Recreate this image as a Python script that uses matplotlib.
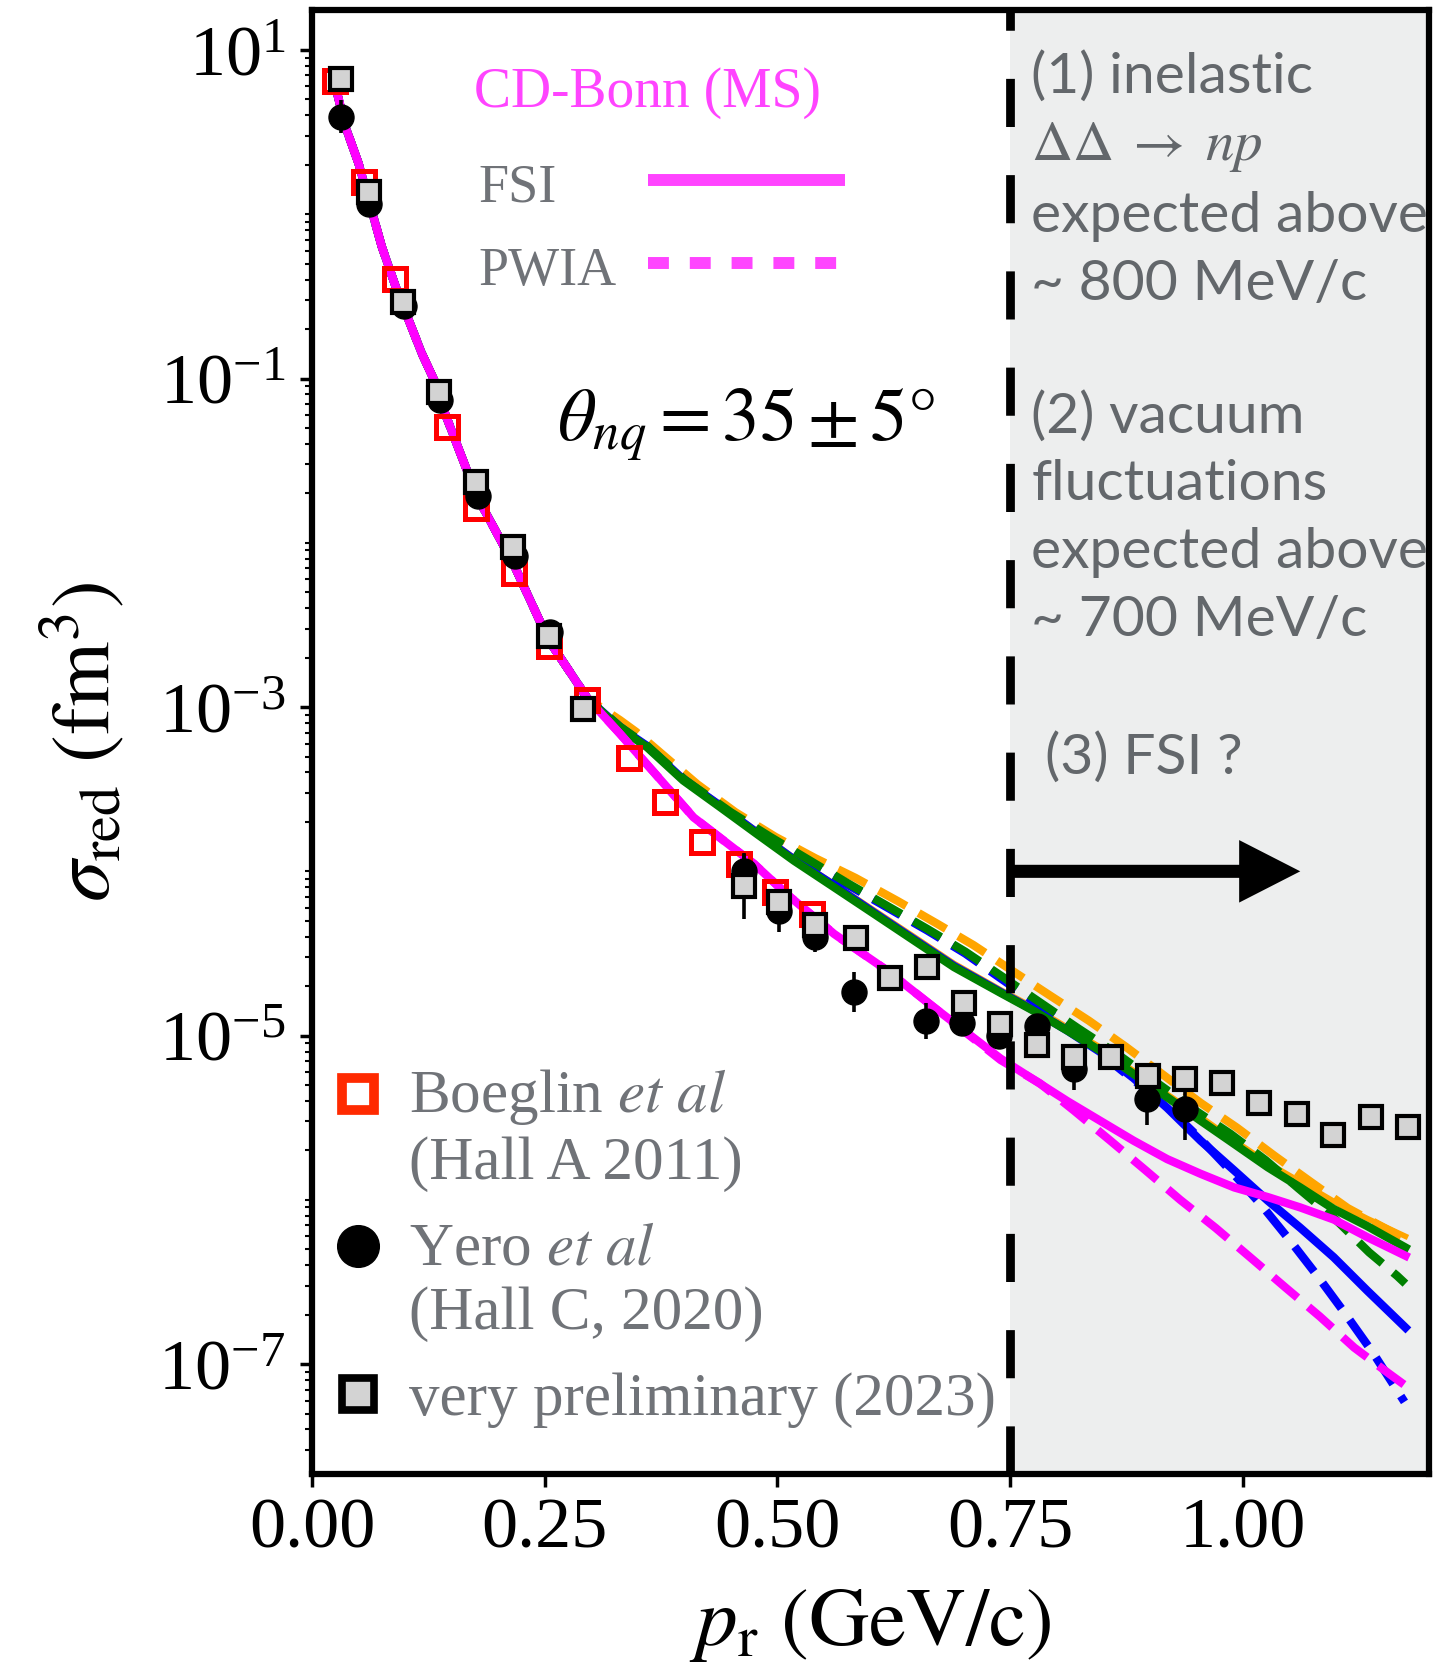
import numpy as np
import matplotlib
matplotlib.use('Agg')
import matplotlib.pyplot as plt
import matplotlib.ticker as tick
from matplotlib.lines import Line2D
from matplotlib.legend_handler import HandlerLine2D

plt.rcParams['font.family'] = ['Liberation Serif', 'DejaVu Serif']
plt.rcParams['mathtext.fontset'] = 'stix'

# ---------------- measured reduced cross sections (fm^3) ----------------
# Boeglin et al, Hall A 2011
p_boeglin = [0.025, 0.0556, 0.0889, 0.145, 0.1766, 0.2167, 0.2544, 0.2957, 0.3403,
             0.3796, 0.419, 0.4584, 0.4978, 0.5373]
sig_boeglin = [6.5, 1.57, 0.405, 0.0507, 0.0162, 6.59e-3, 2.36e-3, 1.10e-3, 4.91e-4,
               2.64e-4, 1.50e-4, 1.11e-4, 7.46e-5, 5.51e-5]

# Yero et al, Hall C 2020 (errors given in decades)
p_yero = [0.0315, 0.0617, 0.0985, 0.138, 0.1788, 0.2178, 0.2556, 0.4638, 0.5014,
          0.5409, 0.582, 0.6602, 0.6986, 0.738, 0.779, 0.8186, 0.8975, 0.9376]
sig_yero = [3.92, 1.16, 0.275, 0.0736, 0.0193, 8.26e-3, 2.86e-3, 1.01e-4, 5.77e-5,
            3.97e-5, 1.84e-5, 1.23e-5, 1.2e-5, 1.0e-5, 1.15e-5, 6.27e-6, 4.11e-6, 3.57e-6]
dex_yero = [0.10, 0.03, 0.03, 0.03, 0.03, 0.03, 0.03, 0.10, 0.13,
            0.09, 0.12, 0.11, 0.06, 0.08, 0.05, 0.13, 0.16, 0.19]

# 2023 run, very preliminary
p_2023 = [0.0315, 0.061, 0.0975, 0.136, 0.1766, 0.2155, 0.2544, 0.2911, 0.4638,
          0.5014, 0.5401, 0.5849, 0.6215, 0.661, 0.7011, 0.7398, 0.7792, 0.8186,
          0.8581, 0.8982, 0.9376, 0.9782, 1.0176, 1.0581, 1.0971, 1.1376, 1.1777]
sig_2023 = [6.7, 1.37, 0.292, 0.0828, 0.0235, 9.44e-3, 2.69e-3, 9.75e-4, 8.18e-5,
            6.49e-5, 4.68e-5, 3.94e-5, 2.24e-5, 2.63e-5, 1.57e-5, 1.17e-5, 8.81e-6,
            7.38e-6, 7.38e-6, 5.70e-6, 5.44e-6, 5.13e-6, 3.89e-6, 3.33e-6, 2.48e-6,
            3.21e-6, 2.79e-6]
dex_2023 = [0.02, 0.02, 0.02, 0.02, 0.02, 0.02, 0.02, 0.02, 0.20,
            0.04, 0.03, 0.02, 0.02, 0.02, 0.02, 0.02, 0.02, 0.02,
            0.02, 0.02, 0.02, 0.02, 0.02, 0.02, 0.02, 0.02, 0.02]

# ---------------- calculations ----------------
# every model coincides below ~0.3 GeV/c
p_common = [0.027, 0.036, 0.050, 0.063, 0.075, 0.090, 0.104, 0.118, 0.133, 0.143,
            0.177, 0.217, 0.254, 0.296]
sig_common = [5.46, 3.40, 2.04, 1.11, 0.634, 0.361, 0.226, 0.142, 0.0931, 0.0611,
              0.0193, 7.33e-3, 2.57e-3, 1.13e-3]

# CD-Bonn (MS), magenta
p_ms_fsi = [0.331, 0.41, 0.475, 0.51, 0.561, 0.618, 0.668, 0.74, 0.776, 0.812, 0.847,
            0.883, 0.919, 0.955, 0.991, 1.027, 1.062, 1.098, 1.135, 1.175]
sig_ms_fsi = [6.87e-4, 2.13e-4, 1.11e-4, 7.28e-5, 4.16e-5, 2.49e-5, 1.49e-5, 7.24e-6,
              5.37e-6, 3.98e-6, 3.03e-6, 2.29e-6, 1.77e-6, 1.44e-6, 1.19e-6, 1.04e-6,
              8.99e-7, 7.59e-7, 5.89e-7, 4.57e-7]
p_ms_pw = [0.331, 0.41, 0.475, 0.51, 0.561, 0.618, 0.668, 0.74, 0.782, 0.819, 0.858,
           0.896, 0.933, 0.971, 1.009, 1.046, 1.083, 1.120, 1.158, 1.175]
sig_ms_pw = [6.87e-4, 2.13e-4, 1.11e-4, 7.28e-5, 4.16e-5, 2.49e-5, 1.49e-5, 7.1e-6,
             5.13e-6, 3.49e-6, 2.29e-6, 1.51e-6, 1.0e-6, 6.75e-7, 4.43e-7, 2.93e-7,
             1.95e-7, 1.26e-7, 8.7e-8, 7.4e-8]

# green / orange / blue FSI share one momentum grid
p_fsi = [0.331, 0.360, 0.399, 0.439, 0.478, 0.518, 0.561, 0.604, 0.647, 0.690, 0.740,
         0.776, 0.812, 0.847, 0.883, 0.919, 0.955, 0.991, 1.027, 1.062, 1.098, 1.134, 1.175]
sig_green_fsi = [7.41e-4, 5.70e-4, 3.57e-4, 2.45e-4, 1.69e-4, 1.16e-4, 8.00e-5, 5.51e-5,
                 3.79e-5, 2.61e-5, 1.82e-5, 1.41e-5, 1.07e-5, 8.09e-6, 5.83e-6, 4.21e-6,
                 3.03e-6, 2.19e-6, 1.58e-6, 1.19e-6, 8.79e-7, 6.92e-7, 5.13e-7]
sig_orange_fsi = [7.6e-4, 5.9e-4, 3.7e-4, 2.55e-4, 1.76e-4, 1.21e-4, 8.4e-5, 5.8e-5,
                  4.0e-5, 2.75e-5, 1.9e-5, 1.48e-5, 1.12e-5, 8.5e-6, 6.1e-6, 4.4e-6,
                  3.2e-6, 2.3e-6, 1.68e-6, 1.29e-6, 9.8e-7, 7.7e-7, 6.0e-7]
sig_blue_fsi = [7.5e-4, 5.8e-4, 3.62e-4, 2.5e-4, 1.72e-4, 1.18e-4, 8.2e-5, 5.6e-5,
                3.85e-5, 2.65e-5, 1.84e-5, 1.42e-5, 1.07e-5, 7.94e-6, 5.5e-6, 3.63e-6,
                2.29e-6, 1.51e-6, 9.9e-7, 6.76e-7, 4.47e-7, 2.8e-7, 1.67e-7]

p_green_pw = [0.331, 0.36, 0.40, 0.45, 0.4925, 0.5337, 0.5749, 0.6179, 0.6609, 0.7021,
              0.7416, 0.7828, 0.824, 0.865, 0.9046, 0.9495, 0.9871, 1.025, 1.06, 1.10,
              1.136, 1.166, 1.175]
sig_green_pw = [7.59e-4, 5.82e-4, 3.63e-4, 2.29e-4, 1.62e-4, 1.175e-4, 8.51e-5, 6.17e-5,
                4.47e-5, 3.24e-5, 2.29e-5, 1.585e-5, 1.10e-5, 7.76e-6, 5.32e-6, 3.49e-6,
                2.52e-6, 1.74e-6, 1.175e-6, 7.59e-7, 4.79e-7, 3.45e-7, 3.09e-7]

p_orange_pw = [0.331, 0.348, 0.379, 0.414, 0.455, 0.498, 0.541, 0.584, 0.629, 0.672,
               0.711, 0.754, 0.794, 0.835, 0.875, 0.915, 0.955, 0.994, 1.034, 1.073,
               1.113, 1.175]
sig_orange_pw = [8.32e-4, 7.08e-4, 5.01e-4, 3.39e-4, 2.29e-4, 1.62e-4, 1.20e-4, 9.12e-5,
                 6.61e-5, 4.79e-5, 3.55e-5, 2.45e-5, 1.74e-5, 1.23e-5, 8.51e-6, 5.75e-6,
                 3.89e-6, 2.75e-6, 1.86e-6, 1.29e-6, 8.91e-7, 5.75e-7]

p_blue_pw = [0.331, 0.36, 0.40, 0.45, 0.49, 0.53, 0.575, 0.618, 0.661, 0.702, 0.742,
             0.788, 0.826, 0.863, 0.92, 0.955, 0.99, 1.02, 1.05, 1.08, 1.11, 1.14, 1.174]
sig_blue_pw = [7.59e-4, 5.75e-4, 3.63e-4, 2.24e-4, 1.585e-4, 1.15e-4, 8.32e-5, 6.03e-5,
               4.37e-5, 3.16e-5, 2.19e-5, 1.445e-5, 9.77e-6, 6.61e-6, 3.63e-6, 2.34e-6,
               1.445e-6, 9.33e-7, 5.75e-7, 3.47e-7, 2.04e-7, 1.175e-7, 5.89e-8]

p_cut = 0.75          # start of the shaded high-momentum region
arrow_tip = 1.062
arrow_y = 1.0e-4

GRAY = '#707378'
NOTE = '#63676b'
MS_KEY = '#ff44ff'


def log_err(s, d):
    s = np.asarray(s)
    d = np.asarray(d)
    return [s - s / 10**d, s * 10**d - s]


class FirstLineHandler(HandlerLine2D):
    # keep the legend marker level with the first line of a two-line label
    def __init__(self, shift, **kw):
        super().__init__(**kw)
        self.shift = shift

    def create_artists(self, legend, orig_handle, xdescent, ydescent, width, height,
                       fontsize, trans):
        arts = super().create_artists(legend, orig_handle, xdescent, ydescent, width,
                                      height, fontsize, trans)
        for a in arts:
            a.set_ydata(np.asarray(a.get_ydata()) + self.shift * fontsize)
        return arts


fig = plt.figure(figsize=(14.36, 16.7), dpi=100)
ax = fig.add_axes([0.2173, 0.1175, 0.7776, 0.8767])
ax.set_yscale('log')
ax.set_xlim(0, 1.2)
ax.set_ylim(2.15e-8, 17.6)

ax.axvspan(p_cut, 1.2, color='#edeeee', lw=0, zorder=0)

dash = (3.8, 1.7)
lw = 6
ax.plot(p_common + p_orange_pw, sig_common + sig_orange_pw, color='orange', lw=lw, dashes=dash, zorder=2)
ax.plot(p_common + p_fsi, sig_common + sig_orange_fsi, color='orange', lw=4, zorder=2)
ax.plot(p_common + p_blue_pw, sig_common + sig_blue_pw, color='blue', lw=lw, dashes=dash, zorder=2)
ax.plot(p_common + p_fsi, sig_common + sig_blue_fsi, color='blue', lw=lw, zorder=2)
ax.plot(p_common + p_green_pw, sig_common + sig_green_pw, color='green', lw=lw, dashes=dash, zorder=2)
ax.plot(p_common + p_fsi, sig_common + sig_green_fsi, color='green', lw=lw, zorder=2)
ax.plot(p_common + p_ms_pw, sig_common + sig_ms_pw, color='magenta', lw=lw, dashes=dash, zorder=2)
ax.plot(p_common + p_ms_fsi, sig_common + sig_ms_fsi, color='magenta', lw=lw, zorder=2)

ax.axvline(p_cut, color='k', lw=6.3, dashes=(5.5, 5.5), zorder=3)

ax.plot(p_boeglin, sig_boeglin, ls='none', marker='s', ms=16, mfc='none', mec='red',
        mew=3.6, zorder=4)
ax.errorbar(p_yero, sig_yero, yerr=log_err(sig_yero, dex_yero), fmt='o', ms=18,
            color='k', ecolor='k', elinewidth=2.6, capsize=0, zorder=5)
ax.errorbar(p_2023, sig_2023, yerr=log_err(sig_2023, dex_2023), fmt='s', ms=15.5,
            mfc='#d3d3d3', mec='k', mew=3, ecolor='k', elinewidth=2.6, capsize=0, zorder=6)

ax.annotate('', xy=(arrow_tip, arrow_y), xytext=(p_cut, arrow_y),
            arrowprops=dict(arrowstyle='simple,head_length=2.2,head_width=2.25,tail_width=0.47',
                            mutation_scale=20, fc='k', ec='none', lw=0,
                            shrinkA=0, shrinkB=0), zorder=7)

# axes, ticks
ax.set_xticks([0, 0.25, 0.5, 0.75, 1.0])
ax.xaxis.set_major_formatter(tick.FormatStrFormatter('%.2f'))
ax.yaxis.set_major_locator(tick.FixedLocator([1e1, 1e-1, 1e-3, 1e-5, 1e-7]))
ax.yaxis.set_major_formatter(tick.LogFormatterSciNotation())
ax.yaxis.set_minor_locator(tick.LogLocator(base=10, subs=np.arange(1, 10), numticks=100))
ax.yaxis.set_minor_formatter(tick.NullFormatter())
ax.tick_params(which='major', direction='out', length=9, width=2.5, labelsize=52, pad=8)
ax.tick_params(axis='y', which='major', labelsize=52, pad=10)
ax.tick_params(which='minor', direction='out', length=5, width=1.5)
for s in ax.spines.values():
    s.set_linewidth(4.5)

ax.set_xlabel(r'$p_{\rm r}\ ({\rm GeV/c})$', fontsize=60)
ax.xaxis.set_label_coords(0.5, -0.077)
ax.set_ylabel(r'$\sigma_{\rm red}\ \left({\rm fm}^{3}\right)$', fontsize=60)
ax.yaxis.set_label_coords(-0.165, 0.5)

ax.text(0.389, 0.716, r'$\theta_{nq} = 35 \pm 5°$', transform=ax.transAxes,
        ha='center', va='center', fontsize=54)

# CD-Bonn key
ax.text(0.1452, 0.934, 'CD-Bonn (MS)', transform=ax.transAxes, color=MS_KEY, fontsize=40)
ax.text(0.1487, 0.869, 'FSI', transform=ax.transAxes, color=GRAY, fontsize=39)
ax.text(0.1487, 0.812, 'PWIA', transform=ax.transAxes, color=GRAY, fontsize=39)
ax.plot([0.301, 0.4776], [0.8837, 0.8837], transform=ax.transAxes, color=MS_KEY,
        lw=8.6, solid_capstyle='butt')
ax.plot([0.301, 0.4776], [0.8271, 0.8271], transform=ax.transAxes, color=MS_KEY,
        lw=8.6, dashes=(1.75, 1.75))

# notes in the shaded region
note_kw = dict(transform=ax.transAxes, ha='left', va='top', fontsize=41, color=NOTE,
               family='Lato', fontweight='normal', linespacing=1.41)
ax.text(0.644, 0.972, '(1) inelastic\n$\\Delta\\Delta\\;\\rightarrow\\;np$\nexpected above\n~ 800 MeV/c',
        **note_kw)
ax.text(0.644, 0.74, '(2) vacuum\nfluctuations\nexpected above\n~ 700 MeV/c', **note_kw)
ax.text(0.656, 0.507, '(3) FSI ?', **note_kw)

# data legend
h_b = Line2D([], [], ls='none', marker='s', ms=23, mfc='none', mec='#ff2a00', mew=7)
h_y = Line2D([], [], ls='none', marker='o', ms=30, color='k')
h_p = Line2D([], [], ls='none', marker='s', ms=23, mfc='#d3d3d3', mec='k', mew=5.5)
leg = ax.legend([h_b, h_y, h_p],
                ['Boeglin $\\mathit{et\\ al}$\n(Hall A 2011)',
                 'Yero $\\mathit{et\\ al}$\n(Hall C, 2020)',
                 'very preliminary (2023)'],
                loc='lower left', bbox_to_anchor=(0.019, 0.031), frameon=False,
                fontsize=44, labelcolor=GRAY, handlelength=0.8, handletextpad=0.44,
                borderpad=0, borderaxespad=0, labelspacing=0.5,
                handler_map={h_b: FirstLineHandler(0.58), h_y: FirstLineHandler(0.58)})
for t in leg.get_texts():
    t.set_linespacing(1.2)

fig.savefig('out.png', dpi=100)
